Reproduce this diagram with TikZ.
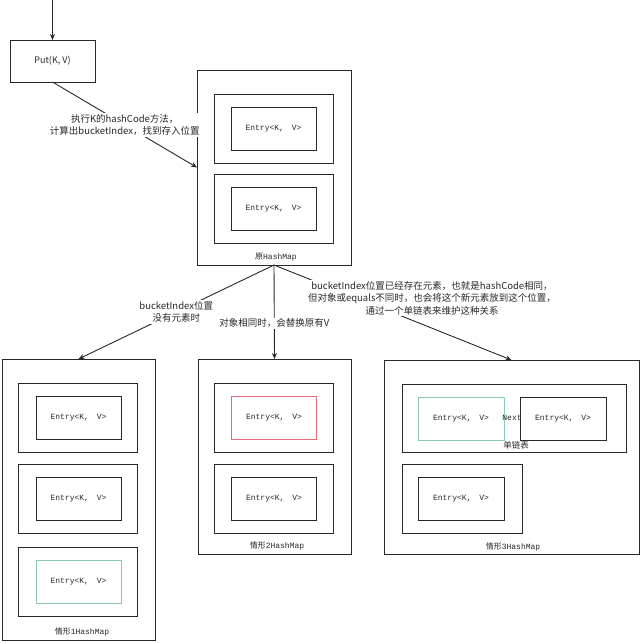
\documentclass[tikz,border=0pt]{standalone}
\usepackage{fontspec}
\setmainfont{Liberation Serif}
\newfontfamily\cjk{Noto Sans CJK SC}
\newfontfamily\mono{Liberation Mono}
\usetikzlibrary{arrows.meta}
\definecolor{ln}{RGB}{40,40,40}
\definecolor{tealb}{RGB}{140,200,185}
\definecolor{redb}{RGB}{225,110,120}
\newcommand{\entrytext}{Entry<K,\hspace{3pt} V>}
\begin{document}
\begin{tikzpicture}[x=1pt,y=-1pt,
  box/.style={draw=ln, line width=0.9pt, inner sep=0pt, outer sep=0pt},
  entry/.style={box, minimum width=85pt, minimum height=43pt, font=\mono\fontsize{8}{9}\selectfont, text=ln},
  slot/.style={box, minimum width=119pt, minimum height=69pt},
  lbl/.style={font=\cjk\fontsize{9.5}{12.5}\selectfont, align=center, fill=white, inner sep=1pt, text=ln},
  maplbl/.style={font=\fontsize{8}{10}\selectfont, inner sep=0pt, text=ln},
  arr/.style={draw=ln, line width=0.9pt, -{Stealth[length=6pt,width=5pt]}}]
\useasboundingbox[fill=white] (0,0) rectangle (640,643);

% Put
\coordinate (start) at (52.5,0);
\node[box, minimum width=85pt, minimum height=42pt, font=\cjk\fontsize{9}{10}\selectfont, text=ln] (put) at (52.5,61) {Put(K, V)};
\draw[arr] (start) -- (put);

% original HashMap
\node[box, minimum width=154pt, minimum height=195pt] (orig) at (274,167.5) {};
\node[slot] (os1) at (273.5,128.5) {};
\node[entry] (oe1) at (273.5,128.5) {\entrytext};
\node[slot] (os2) at (273.5,208.5) {};
\node[entry] (oe2) at (273.5,208.5) {\entrytext};
\node[maplbl] (origlbl) at (276,257) {{\cjk 原}{\mono HashMap}};

% case 1
\node[box, minimum width=153pt, minimum height=281pt] (c1) at (78.5,499.5) {};
\node[slot] (s11) at (78,417.5) {};
\node[entry] (e11) at (78.5,418) {\entrytext};
\node[slot] (s12) at (78,498.5) {};
\node[entry] (e12) at (78.5,498.5) {\entrytext};
\node[slot] (s13) at (78,581.5) {};
\node[entry, draw=tealb] (e13) at (78.5,581.5) {\entrytext};
\node[maplbl] (c1lbl) at (82,632) {{\cjk 情形}{\mono 1HashMap}};

% case 2
\node[box, minimum width=153pt, minimum height=195pt] (c2) at (274.5,456.5) {};
\node[slot] (s21) at (273.5,417.5) {};
\node[entry, draw=redb] (e21) at (274,418) {\entrytext};
\node[slot] (s22) at (273.5,498.5) {};
\node[entry] (e22) at (274,498.5) {\entrytext};
\node[maplbl] (c2lbl) at (277,546) {{\cjk 情形}{\mono 2HashMap}};

% case 3
\node[box, minimum width=255pt, minimum height=194pt] (c3) at (511.5,457) {};
\node[box, minimum width=224pt, minimum height=68pt] (s31) at (514,418) {};
\node[entry, draw=tealb, minimum width=86pt] (e31) at (461,418.5) {\entrytext};
\node[entry, minimum width=86pt] (e32) at (563,418.5) {\entrytext};
\node[maplbl, font=\mono\fontsize{8}{10}\selectfont] (next) at (512,418) {Next};
\node[maplbl, font=\cjk\fontsize{8.5}{10}\selectfont] (chain) at (516,445) {单链表};
\node[slot, minimum width=120pt] (s32) at (462,498.5) {};
\node[entry, minimum width=86pt] (e33) at (461,498.5) {\entrytext};
\node[maplbl] (c3lbl) at (513,547) {{\cjk 情形}{\mono 3HashMap}};

% connectors
\draw[arr] (put.south) -- (orig.west)
  node[lbl, pos=0.5] (l0) {执行K的hashCode方法，\\计算出bucketIndex，找到存入位置};
\draw[arr] (orig.south) -- (c1.north)
  node[lbl, pos=0.5] (l1) {bucketIndex位置\\没有元素时};
\draw[arr] (orig.south) -- (c2.north)
  node[lbl, pos=0.62] (l2) {对象相同时，会替换原有V};
\draw[arr] (orig.south) -- (c3.north);
\node[lbl] (l3) at (432,298) {bucketIndex位置已经存在元素，也就是hashCode相同，\\但对象或equals不同时，也会将这个新元素放到这个位置，\\通过一个单链表来维护这种关系};
\end{tikzpicture}
\end{document}
